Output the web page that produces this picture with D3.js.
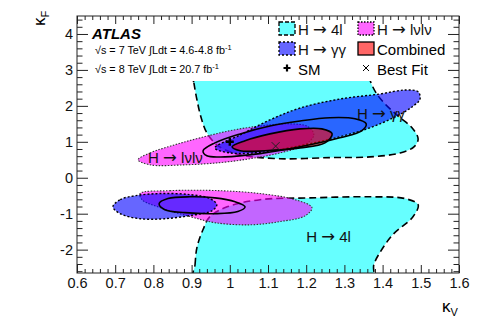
<!DOCTYPE html>
<html lang="en">
<head>
<meta charset="utf-8">
<title>kappa_F vs kappa_V</title>
<script src="https://cdnjs.cloudflare.com/ajax/libs/d3/7.8.5/d3.min.js"></script>
<style>
  body { margin: 0; background: #fff; }
  svg text { font-family: "Liberation Sans", Arial, sans-serif; }
</style>
</head>
<body>
<div id="chart"></div>
<script>
// contours, [kappaV, kappaF]
var zz4lUpper = [[0.901,3.0],[0.906,2.64],[0.914,2.17],[0.925,1.67],[0.94,1.25],[0.969,0.89],[1.027,0.64],
  [1.131,0.53],[1.262,0.56],[1.367,0.58],[1.446,0.69],[1.482,0.86],[1.493,1.08],[1.477,1.39],
  [1.44,1.72],[1.406,2.06],[1.383,2.36],[1.367,2.72],[1.362,3.0]];
var zz4lLower = [[0.906,-2.83],[0.909,-2.42],[0.914,-1.94],[0.93,-1.44],[0.948,-1.08],[0.993,-0.81],
  [1.079,-0.61],[1.21,-0.56],[1.367,-0.53],[1.459,-0.58],[1.493,-0.75],[1.48,-1.08],[1.427,-1.58],
  [1.393,-2.08],[1.377,-2.42],[1.372,-2.83]];
var wwUpper = [[0.76,0.5],[0.791,0.69],[0.857,0.92],[0.922,1.11],[1.001,1.31],[1.079,1.44],[1.158,1.5],
  [1.205,1.42],[1.22,1.19],[1.197,0.92],[1.131,0.69],[1.053,0.53],[0.974,0.42],[0.883,0.36],[0.791,0.36]];
var wwLower = [[0.765,-0.44],[0.843,-0.36],[0.974,-0.36],[1.079,-0.44],[1.171,-0.61],[1.215,-0.83],
  [1.197,-1.06],[1.131,-1.22],[1.053,-1.31],[0.961,-1.25],[0.896,-1.08],[0.817,-0.83],[0.77,-0.61]];
var ggUpper = [[0.961,0.83],[1.027,1.19],[1.105,1.61],[1.184,1.94],[1.288,2.19],[1.393,2.33],[1.459,2.44],
  [1.493,2.39],[1.498,2.19],[1.477,1.97],[1.432,1.69],[1.367,1.39],[1.288,1.14],[1.197,0.92],
  [1.092,0.72],[1.001,0.69]];
var ggLower = [[0.694,-0.81],[0.713,-0.61],[0.752,-0.5],[0.817,-0.44],[0.896,-0.47],[0.948,-0.58],
  [0.966,-0.75],[0.953,-0.92],[0.909,-1.03],[0.83,-1.14],[0.765,-1.14],[0.713,-1.0]];
var comb68 = [[1.006,0.86],[1.04,1.03],[1.105,1.22],[1.184,1.36],[1.241,1.36],[1.268,1.22],[1.249,0.97],
  [1.184,0.83],[1.092,0.75],[1.027,0.75]];
var comb95Upper = [[0.93,0.75],[0.961,0.97],[1.027,1.22],[1.105,1.44],[1.184,1.58],[1.262,1.67],
  [1.328,1.64],[1.357,1.5],[1.346,1.31],[1.288,1.11],[1.184,0.86],[1.079,0.67],[0.987,0.58],[0.94,0.61]];
var comb95Lower = [[0.815,-0.72],[0.838,-0.58],[0.896,-0.53],[0.961,-0.56],[1.014,-0.67],[1.04,-0.81],
  [1.021,-0.94],[0.961,-1.0],[0.883,-0.97],[0.83,-0.89]];
var smPoint = [1.0, 1.0];
var bestFit = [1.12, 0.88];

var xMajor = [0.6, 0.7, 0.8, 0.9, 1.0, 1.1, 1.2, 1.3, 1.4, 1.5, 1.6];
var xLabels = ["0.6", "0.7", "0.8", "0.9", "1", "1.1", "1.2", "1.3", "1.4", "1.5", "1.6"];
var yMajor = [-2, -1, 0, 1, 2, 3, 4];
var yLabels = ["-2", "-1", "0", "1", "2", "3", "4"];

var width = 483, height = 327;
var mLeft = 77, mRight = 459, mTop = 16, mBottom = 273;

var x = d3.scaleLinear().domain([0.6, 1.6]).range([mLeft, mRight]);
var y = d3.scaleLinear().domain([-2.65, 4.5]).range([mBottom, mTop]);

var svg = d3.select("#chart").append("svg")
  .attr("width", width).attr("height", height);

svg.append("defs").append("clipPath").attr("id", "frame")
  .append("rect").attr("x", mLeft).attr("y", mTop)
  .attr("width", mRight - mLeft).attr("height", mBottom - mTop);

var shape = d3.line()
  .x(function(d) { return x(d[0]); })
  .y(function(d) { return y(d[1]); })
  .curve(d3.curveCatmullRomClosed.alpha(0.5));

var plot = svg.append("g").attr("clip-path", "url(#frame)");

function region(pts, fill, stroke, dash, sw) {
  plot.append("path").attr("d", shape(pts))
    .attr("fill", fill)
    .attr("stroke", stroke)
    .attr("stroke-width", sw)
    .attr("stroke-dasharray", dash);
}

// "H -> xx" with a wider arrow glyph, like the ROOT symbol font
function decay(g, px, py, what, size) {
  var t = g.append("text").attr("x", px).attr("y", py).attr("font-size", size).attr("fill", "#111");
  t.append("tspan").text("H ");
  t.append("tspan").style("font-family", "'DejaVu Sans', sans-serif").attr("font-size", size * 1.1).text("\u2192");
  t.append("tspan").text(" " + what);
  return t;
}

var cyan = "rgba(0,255,255,0.6)", blue = "rgba(0,0,255,0.6)",
    magenta = "rgba(255,0,255,0.6)", red = "rgba(255,0,0,0.6)";

// H->4l
region(zz4lUpper, cyan, "#000", "7,4", 1.6);
region(zz4lLower, cyan, "#000", "7,4", 1.6);
// H->WW
region(wwUpper, magenta, "#333", "1.5,1.5", 1.1);
region(wwLower, magenta, "#333", "1.5,1.5", 1.1);
// H->gg
region(ggUpper, blue, "#000", "2,2", 1.4);
region(ggLower, blue, "#000", "2,2", 1.4);
// combined
region(comb68, red, "#000", null, 1.6);
region(comb95Upper, "none", "#000", null, 1.6);
region(comb95Lower, "none", "#000", null, 1.6);

// SM and best fit markers
plot.append("path")
  .attr("d", "M" + (x(smPoint[0]) - 4) + "," + y(smPoint[1]) + "h8M" + x(smPoint[0]) + "," + (y(smPoint[1]) - 4) + "v8")
  .attr("stroke", "#000").attr("stroke-width", 2.4);
plot.append("path")
  .attr("d", "M" + (x(bestFit[0]) - 4) + "," + (y(bestFit[1]) - 4) + "l8,8M" + (x(bestFit[0]) - 4) + "," + (y(bestFit[1]) + 4) + "l8,-8")
  .attr("stroke", "#222").attr("stroke-width", 1);

// channel labels in plot
decay(plot, x(1.333), y(1.63), "\u03b3\u03b3", 15);
decay(plot, x(0.786), y(0.42), "l\u03bdl\u03bd", 15);
decay(plot, x(1.2), y(-1.8), "4l", 15);

// legend background covers the top of the plot
svg.append("rect").attr("x", 185).attr("y", mTop + 0.5).attr("width", mRight - 186).attr("height", 64.5).attr("fill", "#fff");

// axes (ticks inside, on all four sides)
function minors(lo, hi, step, majors) {
  var out = [];
  for (var i = 0; lo + i * step <= hi + 1e-9; i++) {
    var v = +(lo + i * step).toFixed(4);
    if (majors.indexOf(v) < 0) out.push(v);
  }
  return out;
}
var xMinor = minors(0.6, 1.6, 0.02, xMajor);
var yMinor = minors(-2.6, 4.4, 0.2, yMajor);

var axes = svg.append("g");
axes.append("g").attr("transform", "translate(0," + mBottom + ")")
  .call(d3.axisBottom(x).tickValues(xMajor).tickSize(-8).tickPadding(5)
    .tickFormat(function(d, i) { return xLabels[i]; }));
axes.append("g").attr("transform", "translate(0," + mBottom + ")")
  .call(d3.axisBottom(x).tickValues(xMinor).tickSize(-4).tickFormat(""));
axes.append("g").attr("transform", "translate(0," + mTop + ")")
  .call(d3.axisTop(x).tickValues(xMajor).tickSize(-8).tickFormat(""));
axes.append("g").attr("transform", "translate(0," + mTop + ")")
  .call(d3.axisTop(x).tickValues(xMinor).tickSize(-4).tickFormat(""));
axes.append("g").attr("transform", "translate(" + mLeft + ",0)")
  .call(d3.axisLeft(y).tickValues(yMajor).tickSize(-11).tickPadding(4)
    .tickFormat(function(d, i) { return yLabels[i]; }));
axes.append("g").attr("transform", "translate(" + mLeft + ",0)")
  .call(d3.axisLeft(y).tickValues(yMinor).tickSize(-5.5).tickFormat(""));
axes.append("g").attr("transform", "translate(" + mRight + ",0)")
  .call(d3.axisRight(y).tickValues(yMajor).tickSize(-11).tickFormat(""));
axes.append("g").attr("transform", "translate(" + mRight + ",0)")
  .call(d3.axisRight(y).tickValues(yMinor).tickSize(-5.5).tickFormat(""));
axes.selectAll(".domain").remove();
axes.selectAll("line").attr("stroke", "#222");
axes.selectAll("text").attr("font-size", 14.5).attr("fill", "#111")
  .style("font-family", "'Liberation Sans', Arial, sans-serif");

svg.append("rect").attr("x", mLeft).attr("y", mTop)
  .attr("width", mRight - mLeft).attr("height", mBottom - mTop)
  .attr("fill", "none").attr("stroke", "#222").attr("stroke-width", 1);

// axis titles
var kf = svg.append("text").attr("transform", "translate(45,26) rotate(-90)").attr("font-size", 17);
kf.append("tspan").text("\u03ba");
kf.append("tspan").attr("font-size", 11).attr("dy", 4).text("F");
var kv = svg.append("text").attr("x", 442).attr("y", 312).attr("font-size", 17);
kv.append("tspan").text("\u03ba");
kv.append("tspan").attr("font-size", 11).attr("dy", 4).text("V");

// ATLAS label and luminosity
svg.append("text").attr("x", 92).attr("y", 39).attr("font-size", 15)
  .attr("font-weight", "bold").attr("font-style", "italic").text("ATLAS");
var l1 = svg.append("text").attr("x", 95).attr("y", 54).attr("font-size", 10.8);
l1.append("tspan").text("\u221as = 7 TeV \u222bLdt = 4.6-4.8 fb");
l1.append("tspan").attr("font-size", 7.5).attr("dy", -4).text("-1");
var l2 = svg.append("text").attr("x", 95).attr("y", 73).attr("font-size", 10.8);
l2.append("tspan").text("\u221as = 8 TeV \u222bLdt = 20.7 fb");
l2.append("tspan").attr("font-size", 7.5).attr("dy", -4).text("-1");

// legend
var legendItems = [
  { label: "4l", fill: cyan, dash: "4,2", lx: 279, ly: 22 },
  { label: "l\u03bdl\u03bd", fill: magenta, dash: "1.5,1.5", lx: 358, ly: 22 },
  { label: "\u03b3\u03b3", fill: blue, dash: "2,2", lx: 279, ly: 42 },
  { label: "Combined", fill: red, dash: null, lx: 358, ly: 42 }
];
legendItems.forEach(function(d) {
  svg.append("rect").attr("x", d.lx).attr("y", d.ly).attr("width", 16).attr("height", 13)
    .attr("fill", d.fill).attr("stroke", "#000").attr("stroke-width", 1.3)
    .attr("stroke-dasharray", d.dash);
  if (d.label === "Combined") {
    svg.append("text").attr("x", d.lx + 19).attr("y", d.ly + 13).attr("font-size", 15).text(d.label);
  } else {
    decay(svg, d.lx + 19, d.ly + 13, d.label, 15);
  }
});
svg.append("path").attr("d", "M283.5,68h7M287,64.5v7").attr("stroke", "#000").attr("stroke-width", 2.2);
svg.append("text").attr("x", 298).attr("y", 75).attr("font-size", 15).text("SM");
svg.append("path").attr("d", "M363,65l6,6M363,71l6,-6").attr("stroke", "#000").attr("stroke-width", 1);
svg.append("text").attr("x", 377).attr("y", 75).attr("font-size", 15).text("Best Fit");
</script>
</body>
</html>
